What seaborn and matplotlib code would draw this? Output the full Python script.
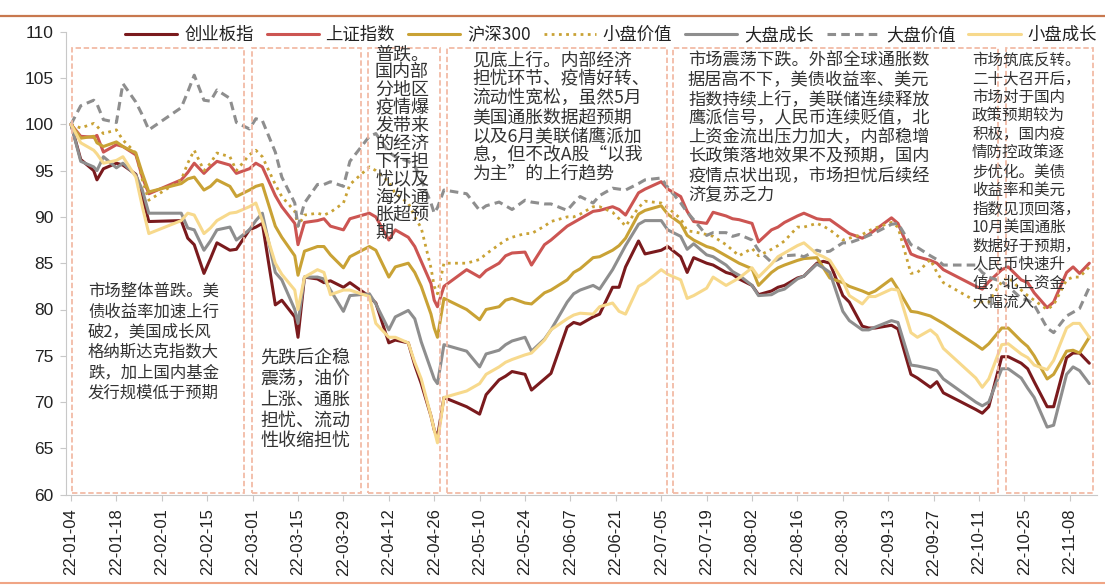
import numpy as np
import pandas as pd
import matplotlib
matplotlib.use("Agg")
import matplotlib.pyplot as plt
import matplotlib.dates as mdates
from matplotlib.patches import Rectangle
from matplotlib.lines import Line2D
import seaborn as sns

sns.set_theme(style="white")
plt.rcParams['font.family'] = ['Noto Sans CJK SC', 'DejaVu Sans']
plt.rcParams['axes.unicode_minus'] = False

# ---------------- data (2022 = 100 at 22-01-04) ----------------
dates = ["01-04","01-07","01-11","01-12","01-14","01-18","01-20","01-24","01-26","01-28",
         "02-07","02-09","02-11","02-14","02-16","02-18","02-22","02-24","02-28","03-02",
         "03-04","03-08","03-10","03-14","03-15","03-17","03-21","03-23","03-25","03-29",
         "03-31","04-06","04-08","04-12","04-14","04-18","04-20","04-22","04-25","04-26",
         "04-27","04-29","05-06","05-10","05-12","05-16","05-18","05-20","05-24","05-26",
         "05-30","06-01","06-06","06-08","06-10","06-14","06-16","06-20","06-22","06-24",
         "06-28","06-30","07-05","07-07","07-11","07-13","07-15","07-19","07-21","07-25",
         "07-27","07-29","08-02","08-04","08-08","08-10","08-12","08-16","08-18","08-22",
         "08-24","08-26","08-30","09-01","09-05","09-07","09-09","09-14","09-16","09-20",
         "09-22","09-26","09-28","09-30","10-10","10-12","10-14","10-18","10-20","10-24",
         "10-26","10-28","11-01","11-03","11-07","11-09","11-11","11-14"]

chinext = [100, 96.2, 95.0, 94.0, 95.2, 95.8, 95.6, 94.6, 92.2, 89.5,
           89.6, 87.7, 87.0, 83.9, 85.5, 87.2, 86.4, 86.5, 88.6, 88.9,
           89.3, 80.5, 81.0, 79.2, 77.0, 83.5, 83.3, 82.9, 83.1, 82.4,
           82.9, 81.4, 80.7, 76.4, 76.7, 76.4, 74.0, 72.0, 68.5, 67.0,
           66.2, 70.5, 69.5, 68.7, 70.8, 72.4, 72.8, 73.3, 73.0, 71.3,
           72.5, 73.1, 78.1, 78.6, 78.4, 79.2, 79.5, 82.4, 82.4, 84.6,
           87.4, 86.0, 86.4, 86.8, 85.7, 84.0, 85.6, 85.0, 84.8, 84.0,
           83.8, 83.3, 82.6, 81.6, 82.0, 82.4, 82.6, 83.4, 83.6, 85.0,
           85.2, 85.0, 81.5, 80.8, 78.2, 78.0, 78.0, 78.3, 77.9, 73.0,
           72.6, 71.6, 72.2, 71.0, 69.2, 68.8, 69.5, 74.9, 74.9, 74.2,
           73.6, 72.2, 69.5, 69.5, 74.8, 75.3, 75.3, 74.2]

sse = [100, 98.7, 98.6, 98.8, 97.0, 97.8, 97.6, 96.7, 94.3, 92.5,
       94.0, 94.8, 95.8, 94.7, 95.4, 96.0, 95.6, 94.7, 95.2, 95.8,
       95.4, 92.3, 91.1, 89.3, 87.0, 89.4, 89.6, 89.8, 89.0, 88.6,
       89.8, 90.4, 90.0, 87.5, 88.6, 87.8, 86.8, 85.2, 82.8, 81.0,
       80.3, 82.5, 84.3, 83.5, 84.2, 85.0, 85.8, 86.1, 86.2, 84.8,
       87.0, 87.5, 89.0, 89.4, 89.8, 90.6, 90.7, 91.1, 90.8, 90.2,
       92.6, 93.0, 93.8, 93.0, 92.2, 90.6, 89.5, 89.3, 90.5, 90.1,
       89.8, 89.7, 89.3, 87.3, 88.6, 88.9, 89.4, 90.1, 90.4, 89.8,
       89.7, 89.7, 88.7, 88.2, 87.7, 88.1, 88.6, 89.9, 89.3, 86.0,
       85.7, 85.3, 85.0, 84.3, 82.5, 82.2, 83.0, 84.3, 84.6, 83.2,
       82.9, 81.8, 80.2, 80.8, 84.0, 84.6, 83.9, 85.0]

hs300 = [100, 98.5, 98.7, 98.0, 97.6, 98.1, 97.6, 96.9, 94.7, 92.7,
         93.6, 94.1, 94.3, 92.9, 93.3, 94.0, 93.3, 92.2, 92.9, 93.3,
         93.5, 89.0, 87.8, 85.8, 83.7, 86.3, 86.8, 86.8, 85.9, 84.5,
         85.7, 86.8, 86.4, 83.5, 84.6, 85.0, 84.0, 82.5, 79.5, 78.0,
         77.0, 81.2, 80.0, 78.9, 80.0, 80.3, 81.0, 81.2, 80.7, 80.6,
         81.8, 82.1, 83.2, 84.0, 84.4, 85.6, 85.7, 86.4, 86.9, 87.7,
         90.3, 90.7, 91.2, 90.3, 89.3, 88.0, 87.5, 86.8, 86.6, 85.8,
         85.4, 85.0, 84.4, 82.6, 84.0, 84.5, 84.8, 85.3, 85.5, 85.6,
         84.5, 83.4, 82.9, 82.5, 82.0, 81.7, 82.0, 83.3, 82.2, 79.8,
         79.7, 79.3, 78.9, 78.5, 76.2, 75.7, 76.3, 78.0, 78.0, 76.6,
         76.0, 75.0, 72.5, 73.0, 75.5, 75.6, 75.3, 77.0]

small_value = [100, 99.6, 100.1, 99.8, 99.0, 99.4, 98.3, 96.9, 94.0, 91.8,
               94.0, 95.8, 97.2, 95.0, 95.8, 96.9, 96.5, 95.0, 96.7, 97.2,
               96.5, 93.5, 92.2, 90.6, 89.0, 90.2, 90.4, 90.2, 90.5, 91.5,
               93.5, 95.4, 95.0, 93.8, 92.5, 91.5, 90.0, 88.8, 84.5, 82.5,
               81.7, 85.0, 85.0, 85.4, 86.0, 87.0, 87.5, 87.8, 88.2, 88.2,
               89.0, 89.5, 90.0, 90.0, 90.3, 91.1, 91.1, 90.5, 89.8, 89.0,
               91.0, 91.7, 91.5, 91.0, 89.8, 88.5, 88.4, 88.1, 87.9, 87.0,
               86.4, 85.8, 86.6, 85.8, 86.5, 86.9, 87.4, 88.9, 88.9, 89.3,
               89.0, 88.6, 87.5, 87.7, 88.1, 88.5, 88.8, 89.4, 88.9, 83.9,
               84.0, 85.4, 84.0, 82.9, 80.9, 80.8, 80.8, 83.0, 83.5, 82.1,
               81.5, 81.0, 80.0, 80.5, 83.2, 83.5, 83.5, 84.6]

large_growth = [100, 96.0, 95.4, 95.0, 96.5, 95.3, 95.8, 94.5, 92.9, 90.4,
                90.4, 88.8, 88.6, 86.4, 87.4, 88.6, 88.9, 87.5, 88.6, 89.6,
                90.4, 84.0, 83.2, 80.0, 78.5, 83.5, 83.5, 83.3, 82.1, 79.8,
                81.5, 81.7, 80.6, 77.8, 79.2, 79.9, 79.0, 76.5, 73.5, 72.5,
                72.0, 76.2, 75.5, 73.8, 75.2, 75.6, 76.2, 76.6, 77.0, 75.5,
                76.8, 77.8, 80.8, 81.7, 82.1, 82.6, 82.2, 84.3, 85.6, 86.9,
                89.2, 89.6, 89.6, 88.6, 87.9, 86.5, 87.1, 85.9, 85.7, 84.8,
                84.1, 83.7, 82.6, 81.5, 81.6, 82.0, 82.2, 83.3, 83.6, 84.9,
                84.5, 84.0, 79.8, 78.8, 77.8, 77.8, 78.1, 78.8, 78.6, 74.0,
                73.9, 73.6, 73.4, 72.5, 70.0, 69.6, 70.0, 73.6, 73.6, 72.6,
                71.5, 70.5, 67.3, 67.5, 73.0, 73.8, 73.4, 72.0]

large_value = [100, 102.0, 102.6, 102.2, 100.5, 100.2, 104.4, 102.4, 101.0, 99.4,
               101.8, 103.5, 105.3, 102.6, 102.5, 103.7, 102.8, 100.2, 99.5, 100.6,
               100.4, 97.0, 94.3, 91.5, 89.0, 91.5, 93.5, 93.5, 93.8, 93.3,
               96.0, 98.7, 99.0, 97.0, 96.5, 96.0, 95.5, 94.0, 91.5, 90.4,
               91.0, 92.9, 92.5, 90.7, 91.2, 91.6, 91.2, 90.8, 91.8, 91.6,
               91.4, 91.4, 90.7, 91.5, 92.2, 91.5, 92.3, 93.1, 93.0, 92.9,
               93.6, 94.0, 94.2, 93.2, 91.5, 90.5, 89.7, 88.0, 88.3, 88.3,
               87.9, 88.1, 87.5, 86.4, 85.1, 85.4, 85.8, 85.9, 85.7, 86.4,
               86.2, 86.3, 87.2, 87.2, 87.7, 88.0, 88.3, 89.2, 89.3, 87.0,
               86.7, 85.8, 85.4, 84.8, 84.8, 84.0, 83.5, 83.0, 82.5, 81.2,
               81.0, 80.5, 78.0, 77.5, 79.3, 79.7, 80.1, 82.4]

small_growth = [100, 98.0, 97.2, 96.8, 95.8, 96.1, 96.5, 94.3, 91.1, 88.2,
                89.6, 90.4, 90.2, 88.2, 88.8, 89.6, 90.4, 90.5, 91.1, 91.5,
                89.6, 85.0, 83.8, 82.1, 80.0, 83.5, 84.3, 84.0, 81.6, 82.1,
                82.1, 81.4, 78.5, 77.0, 77.0, 76.4, 74.3, 72.5, 68.5, 67.0,
                65.6, 70.5, 71.2, 72.0, 73.0, 73.8, 74.3, 74.6, 75.1, 75.3,
                76.7, 77.8, 79.0, 79.4, 79.6, 79.5, 80.3, 80.7, 79.8, 79.5,
                82.5, 82.9, 84.3, 83.8, 83.2, 81.2, 81.5, 82.3, 83.5, 82.6,
                83.0, 83.4, 84.5, 83.5, 84.9, 85.7, 86.1, 86.9, 87.2, 86.0,
                85.7, 85.3, 83.1, 81.5, 80.6, 81.4, 81.4, 82.2, 82.1, 77.5,
                77.0, 77.8, 77.2, 75.8, 72.6, 71.6, 72.5, 76.2, 76.3, 75.2,
                74.8, 74.0, 73.5, 74.5, 78.0, 78.5, 78.5, 77.0]

series_names = ["创业板指", "上证指数", "沪深300", "小盘价值", "大盘成长", "大盘价值", "小盘成长"]
series_values = [chinext, sse, hs300, small_value, large_growth, large_value, small_growth]

x_tick_labels = ["22-01-04", "22-01-18", "22-02-01", "22-02-15", "22-03-01", "22-03-15",
                 "22-03-29", "22-04-12", "22-04-26", "22-05-10", "22-05-24", "22-06-07",
                 "22-06-21", "22-07-05", "22-07-19", "22-08-02", "22-08-16", "22-08-30",
                 "22-09-13", "22-09-27", "22-10-11", "22-10-25", "22-11-08"]
y_ticks = [60, 65, 70, 75, 80, 85, 90, 95, 100, 105, 110]

notes = [
    "市场整体普跌。美\n债收益率加速上行\n破2，美国成长风\n格纳斯达克指数大\n跌，加上国内基金\n发行规模低于预期",
    "先跌后企稳\n震荡，油价\n上涨、通胀\n担忧、流动\n性收缩担忧",
    "普跌。\n国内部\n分地区\n疫情爆\n发带来\n的经济\n下行担\n忧以及\n海外通\n胀超预\n期",
    "见底上行。内部经济\n担忧环节、疫情好转、\n流动性宽松，虽然5月\n美国通胀数据超预期\n以及6月美联储鹰派加\n息，但不改A股“以我\n为主”的上行趋势",
    "市场震荡下跌。外部全球通胀数\n据居高不下，美债收益率、美元\n指数持续上行，美联储连续释放\n鹰派信号，人民币连续贬值，北\n上资金流出压力加大，内部稳增\n长政策落地效果不及预期，国内\n疫情点状出现，市场担忧后续经\n济复苏乏力",
    "市场筑底反转。\n二十大召开后，\n市场对于国内\n政策预期较为\n积极，国内疫\n情防控政策逐\n步优化。美债\n收益率和美元\n指数见顶回落，\n10月美国通胀\n数据好于预期，\n人民币快速升\n值，北上资金\n大幅流入",
]

# ---------------- styles / layout ----------------
W, H = 1105, 585
colors = ["#7A1A1D", "#CC5552", "#C9A235", "#C9A235", "#8E8E8E", "#8E8E8E", "#F7D98C"]
lstyles = ["-", "-", "-", (0, (1, 1.6)), "-", (0, (2.8, 1.7)), "-"]
lwidths = [2.2, 2.2, 2.2, 2.0, 2.2, 2.2, 2.2]

fig = plt.figure(figsize=(W / 100, H / 100), dpi=100)
ax_left, ax_right, ax_top, ax_bot = 66, 1097, 31.7, 494.7
ax = fig.add_axes([ax_left / W, 1 - ax_bot / H, (ax_right - ax_left) / W, (ax_bot - ax_top) / H])

x = pd.to_datetime(["2022-" + d for d in dates])
for name, vals, c, ls, lw in zip(series_names, series_values, colors, lstyles, lwidths):
    sns.lineplot(x=x, y=vals, ax=ax, color=c, linestyle=ls, linewidth=lw, label=name)

# axis scaling: 3.243 px per day, 22-01-04 at px 71
px_per_day = 3.243
x0 = mdates.date2num(pd.Timestamp("2022-01-04")) - (71 - ax_left) / px_per_day
ax.set_xlim(x0, x0 + (ax_right - ax_left) / px_per_day)
ax.set_ylim(60, 110)

tick_pos = [pd.Timestamp("20" + t) for t in x_tick_labels]
ax.set_xticks(tick_pos)
ax.set_xticklabels(x_tick_labels, rotation=90, fontsize=12, family="Liberation Sans", color="#222222")
ax.set_yticks(y_ticks)
ax.set_yticklabels([str(v) for v in y_ticks], fontsize=12.5, family="Liberation Sans", color="#222222")
ax.tick_params(axis="both", which="both", length=4, width=0.8, color="#C8C8C8", pad=5,
               bottom=True, left=True)
ax.tick_params(axis="x", pad=6)
for s in ["top", "right"]:
    ax.spines[s].set_visible(False)
for s in ["left", "bottom"]:
    ax.spines[s].set_color("#C8C8C8")
    ax.spines[s].set_linewidth(0.8)
ax.set_xlabel("")
ax.set_ylabel("")
ax.grid(False)

handles, labels = ax.get_legend_handles_labels()
ax.legend(handles, labels, ncol=7, loc="center",
          bbox_to_anchor=((611 - ax_left) / (ax_right - ax_left), (ax_bot - 35) / (ax_bot - ax_top)),
          frameon=False, fontsize=12.5, handlelength=3.0, handletextpad=0.4, columnspacing=0.75,
          borderaxespad=0, labelcolor="#222222")

# dashed annotation boxes (pixel layout)
box_color = "#F2BBA6"
boxes_px = [(72, 244), (252, 361), (368, 440), (447, 667), (673, 998), (1006, 1093)]
box_top, box_bot = 48, 493
for l, r in boxes_px:
    fig.add_artist(Rectangle((l / W, 1 - box_bot / H), (r - l) / W, (box_bot - box_top) / H,
                             transform=fig.transFigure, fill=False, ec=box_color,
                             lw=1.3, ls=(0, (3, 1.5)), zorder=3))

# note texts (left, top, fontsize, linespacing)
note_pos = [(88, 283, 11.8, 1.25), (260, 349, 13.0, 1.2), (375, 45, 13.0, 1.0),
            (472, 52, 12.8, 1.05), (688, 52, 12.4, 1.08), (972, 52, 11.2, 1.12)]
for txt, (tx, ty, fs, lsp) in zip(notes, note_pos):
    fig.text(tx / W, 1 - ty / H, txt, ha="left", va="top", fontsize=fs, linespacing=lsp,
             color="#333333", zorder=5)

# decorative rules at top and bottom of the page
fig.add_artist(Line2D([0, 1], [1 - 16 / H, 1 - 16 / H], transform=fig.transFigure,
                      color="#C8784E", lw=1.6))
fig.add_artist(Line2D([0, 1], [1 - 583 / H, 1 - 583 / H], transform=fig.transFigure,
                      color="#F0A585", lw=1.5))

fig.savefig("out.png", dpi=100)
